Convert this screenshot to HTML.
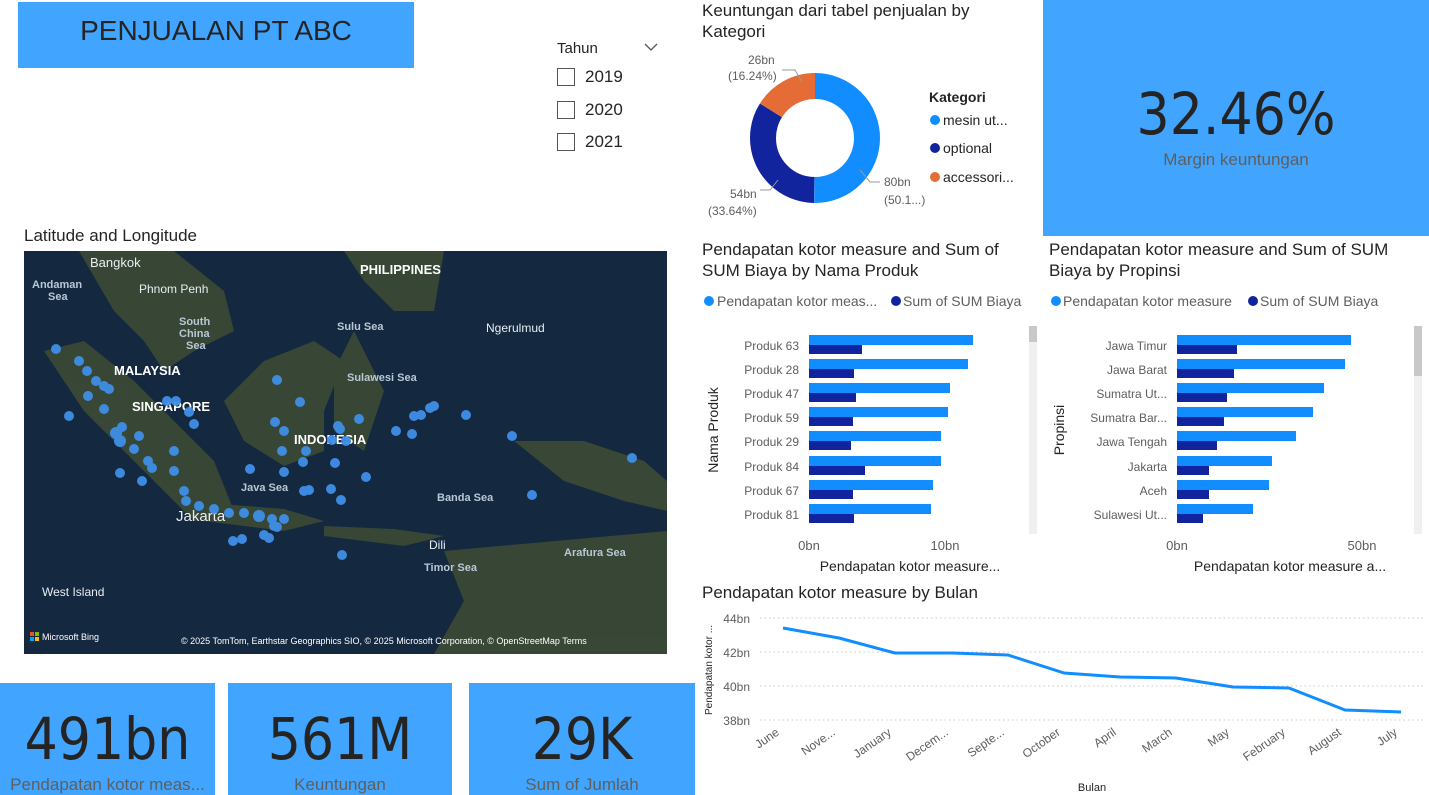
<!DOCTYPE html>
<html><head><meta charset="utf-8"><style>
body{margin:0;width:1429px;height:795px;background:#fff;position:relative;overflow:hidden;font-family:"Liberation Sans","DejaVu Sans",sans-serif;color:#252423}
.a{position:absolute;white-space:nowrap}
.card{position:absolute;background:#41a5ff;overflow:hidden}
.big{position:absolute;width:100%;text-align:center;color:#252423;font-family:"DejaVu Sans Condensed","DejaVu Sans",sans-serif}
.sub{position:absolute;width:100%;text-align:center;color:#605e5c;font-size:17px}
.t{font-size:17px;color:#252423}
</style></head><body>
<div class="card" style="left:18px;top:2px;width:396px;height:66px"><div class="big" style="top:13px;font-size:28px;font-family:'Liberation Sans',sans-serif">PENJUALAN PT ABC</div></div>

<div class="a" style="left:557px;top:40px;font-size:15px">Tahun</div>
<svg class="a" style="left:644px;top:42px" width="14" height="10"><path d="M1 2 L7 8 L13 2" stroke="#555" fill="none" stroke-width="1.3"/></svg>
<div class="a" style="left:557px;top:68px;width:16px;height:16px;border:1px solid #555"></div><div class="a" style="left:585px;top:67px;font-size:17px">2019</div>
<div class="a" style="left:557px;top:101px;width:16px;height:16px;border:1px solid #555"></div><div class="a" style="left:585px;top:100px;font-size:17px">2020</div>
<div class="a" style="left:557px;top:133px;width:16px;height:16px;border:1px solid #555"></div><div class="a" style="left:585px;top:132px;font-size:17px">2021</div>

<div class="a t" style="left:702px;top:0px;line-height:21px">Keuntungan dari tabel penjualan by<br>Kategori</div>
<svg class="a" style="left:700px;top:40px" width="340" height="185">
<circle cx="115" cy="98" r="52" fill="none" stroke="#118dff" stroke-width="26" stroke-dasharray="163.9 1000" transform="rotate(-90 115 98)"/>
<circle cx="115" cy="98" r="52" fill="none" stroke="#12239e" stroke-width="26" stroke-dasharray="0 164 109.9 1000" transform="rotate(-90 115 98)"/>
<circle cx="115" cy="98" r="52" fill="none" stroke="#e66c37" stroke-width="26" stroke-dasharray="0 273.9 53 1000" transform="rotate(-90 115 98)"/>
<g font-size="12" fill="#605e5c"><text x="48" y="24">26bn</text><text x="28" y="40">(16.24%)</text>
<text x="30" y="158">54bn</text><text x="8" y="175">(33.64%)</text>
<text x="184" y="146">80bn</text><text x="184" y="164">(50.1...)</text></g>
<path d="M82 30 L95 30 L102 42" stroke="#999" fill="none"/>
<path d="M60 150 L70 150 L78 140" stroke="#999" fill="none"/>
<path d="M160 130 L170 142 L180 142" stroke="#999" fill="none"/>
<text x="229" y="62" font-size="14" font-weight="bold" fill="#252423">Kategori</text>
<circle cx="235" cy="80" r="5" fill="#118dff"/><text x="243" y="85" font-size="14" fill="#252423">mesin ut...</text>
<circle cx="235" cy="108" r="5" fill="#12239e"/><text x="243" y="113" font-size="14" fill="#252423">optional</text>
<circle cx="235" cy="137" r="5" fill="#e66c37"/><text x="243" y="142" font-size="14" fill="#252423">accessori...</text>
</svg>

<div class="card" style="left:1043px;top:0;width:386px;height:236px"><div class="big" style="top:80px;font-size:58px">32.46%</div><div class="sub" style="top:150px">Margin keuntungan</div></div>

<div class="a t" style="left:24px;top:226px">Latitude and Longitude</div>
<svg class="a" style="left:24px;top:251px" width="643" height="403">
<rect width="643" height="403" fill="#14283f"/>
<g fill="#3d4a35" opacity="0.9">
<path d="M55 0 L150 0 L200 40 L210 80 L170 100 L140 120 L120 90 L90 60 Z"/>
<path d="M20 100 L60 90 L110 130 L150 170 L190 210 L210 260 L170 270 L120 220 L60 160 Z"/>
<path d="M160 250 L260 258 L300 270 L260 280 L180 270 Z"/>
<path d="M200 150 L240 110 L290 90 L320 110 L300 160 L300 200 L260 215 L220 190 Z"/>
<path d="M310 120 L330 80 L360 140 L340 200 L310 180 Z"/>
<path d="M320 0 L420 0 L410 60 L370 60 L340 30 Z"/>
<path d="M490 190 L560 190 L620 210 L643 230 L643 260 L600 250 L540 230 Z"/>
<path d="M420 300 L643 280 L643 403 L410 403 L440 350 Z"/>
<path d="M300 275 L370 278 L420 285 L380 295 L300 285 Z"/>
</g>
<g fill="#e8eef4" font-size="13"><text x="66" y="16">Bangkok</text><text x="115" y="42" font-size="12">Phnom Penh</text><text x="462" y="81" font-size="12">Ngerulmud</text>
<text x="18" y="345" font-size="12">West Island</text><text x="152" y="270" font-size="15">Jakarta</text><text x="405" y="298" font-size="12">Dili</text></g>
<g fill="#b8c8d6" font-size="11" font-weight="bold"><text x="8" y="37">Andaman</text><text x="24" y="49">Sea</text><text x="155" y="74">South</text><text x="155" y="86">China</text><text x="162" y="98">Sea</text>
<text x="313" y="79">Sulu Sea</text><text x="323" y="130">Sulawesi Sea</text><text x="217" y="240">Java Sea</text><text x="413" y="250">Banda Sea</text><text x="400" y="320">Timor Sea</text><text x="540" y="305">Arafura Sea</text></g>
<g fill="#fff" font-size="13" font-weight="bold"><text x="90" y="124">MALAYSIA</text><text x="108" y="160">SINGAPORE</text><text x="270" y="193">INDONESIA</text><text x="336" y="23">PHILIPPINES</text></g>
<g fill="#3f8fe8" opacity="0.95">
<circle cx="32" cy="98" r="5"/><circle cx="55" cy="110" r="5"/><circle cx="63" cy="120" r="5"/><circle cx="72" cy="130" r="5"/><circle cx="80" cy="135" r="5"/><circle cx="85" cy="138" r="5"/><circle cx="64" cy="145" r="5"/><circle cx="80" cy="158" r="5"/><circle cx="45" cy="165" r="5"/><circle cx="98" cy="176" r="5"/><circle cx="92" cy="182" r="6"/><circle cx="96" cy="190" r="6"/><circle cx="110" cy="198" r="5"/><circle cx="124" cy="210" r="5"/><circle cx="150" cy="200" r="5"/><circle cx="96" cy="222" r="5"/><circle cx="118" cy="230" r="5"/><circle cx="128" cy="217" r="5"/><circle cx="150" cy="220" r="5"/><circle cx="160" cy="240" r="5"/><circle cx="143" cy="150" r="5"/><circle cx="152" cy="150" r="5"/>
<circle cx="162" cy="250" r="5"/><circle cx="175" cy="255" r="5"/><circle cx="190" cy="258" r="5"/><circle cx="205" cy="262" r="5"/><circle cx="220" cy="262" r="5"/><circle cx="235" cy="265" r="6"/><circle cx="248" cy="268" r="5"/><circle cx="260" cy="268" r="5"/><circle cx="250" cy="275" r="5"/><circle cx="209" cy="290" r="5"/><circle cx="218" cy="288" r="5"/><circle cx="245" cy="287" r="5"/>
<circle cx="165" cy="161" r="5"/><circle cx="170" cy="173" r="5"/><circle cx="115" cy="185" r="5"/><circle cx="276" cy="151" r="5"/><circle cx="282" cy="200" r="5"/><circle cx="226" cy="218" r="5"/><circle cx="253" cy="129" r="5"/><circle cx="251" cy="171" r="5"/><circle cx="260" cy="180" r="5"/><circle cx="308" cy="189" r="5"/><circle cx="314" cy="175" r="5"/><circle cx="258" cy="200" r="5"/>
<circle cx="260" cy="221" r="5"/><circle cx="279" cy="211" r="5"/><circle cx="285" cy="239" r="5"/><circle cx="307" cy="238" r="5"/><circle cx="317" cy="249" r="5"/><circle cx="342" cy="226" r="5"/><circle cx="316" cy="178" r="5"/>
<circle cx="335" cy="168" r="5"/><circle cx="322" cy="190" r="5"/><circle cx="311" cy="212" r="5"/><circle cx="280" cy="240" r="5"/><circle cx="390" cy="165" r="5"/><circle cx="397" cy="164" r="5"/><circle cx="406" cy="157" r="5"/><circle cx="410" cy="155" r="5"/><circle cx="442" cy="164" r="5"/><circle cx="488" cy="185" r="5"/><circle cx="388" cy="183" r="5"/><circle cx="372" cy="180" r="5"/>
<circle cx="508" cy="244" r="5"/><circle cx="318" cy="304" r="5"/><circle cx="608" cy="207" r="5"/><circle cx="253" cy="276" r="5"/><circle cx="240" cy="284" r="5"/>
</g>
<g font-size="9" fill="#fff"><rect x="6" y="381" width="4" height="4" fill="#f25022"/><rect x="11" y="381" width="4" height="4" fill="#7fba00"/><rect x="6" y="386" width="4" height="4" fill="#00a4ef"/><rect x="11" y="386" width="4" height="4" fill="#ffb900"/><text x="18" y="389">Microsoft Bing</text>
<text x="157" y="393">© 2025 TomTom, Earthstar Geographics SIO, © 2025 Microsoft Corporation, © OpenStreetMap  Terms</text></g>
</svg>

<div class="a t" style="left:702px;top:239px;line-height:21px">Pendapatan kotor measure and Sum of<br>SUM Biaya by Nama Produk</div>
<div class="a t" style="left:1049px;top:239px;line-height:21px">Pendapatan kotor measure and Sum of SUM<br>Biaya by Propinsi</div>
<svg class="a" style="left:700px;top:290px" width="729" height="290">
<g font-size="14" fill="#605e5c">
<circle cx="9" cy="11" r="5" fill="#118dff"/><text x="17" y="16">Pendapatan kotor meas...</text><circle cx="196" cy="11" r="5" fill="#12239e"/><text x="203" y="16">Sum of SUM Biaya</text>
<circle cx="356" cy="11" r="5" fill="#118dff"/><text x="363" y="16">Pendapatan kotor measure</text><circle cx="553" cy="11" r="5" fill="#12239e"/><text x="560" y="16">Sum of SUM Biaya</text>
</g>
<g font-size="12" fill="#605e5c" text-anchor="end">
<text x="99" y="60">Produk 63</text><text x="99" y="84">Produk 28</text><text x="99" y="108">Produk 47</text><text x="99" y="132">Produk 59</text><text x="99" y="156">Produk 29</text><text x="99" y="181">Produk 84</text><text x="99" y="205">Produk 67</text><text x="99" y="229">Produk 81</text>
<text x="467" y="60">Jawa Timur</text><text x="467" y="84">Jawa Barat</text><text x="467" y="108">Sumatra Ut...</text><text x="467" y="132">Sumatra Bar...</text><text x="467" y="156">Jawa Tengah</text><text x="467" y="181">Jakarta</text><text x="467" y="205">Aceh</text><text x="467" y="229">Sulawesi Ut...</text>
</g>
<g fill="#118dff">
<rect x="109" y="45" width="164" height="10"/><rect x="109" y="69" width="159" height="10"/><rect x="109" y="93" width="141" height="10"/><rect x="109" y="117" width="139" height="10"/><rect x="109" y="141" width="132" height="10"/><rect x="109" y="166" width="132" height="10"/><rect x="109" y="190" width="124" height="10"/><rect x="109" y="214" width="122" height="10"/>
<rect x="477" y="45" width="174" height="10"/><rect x="477" y="69" width="168" height="10"/><rect x="477" y="93" width="147" height="10"/><rect x="477" y="117" width="136" height="10"/><rect x="477" y="141" width="119" height="10"/><rect x="477" y="166" width="95" height="10"/><rect x="477" y="190" width="92" height="10"/><rect x="477" y="214" width="76" height="10"/>
</g>
<g fill="#12239e">
<rect x="109" y="55" width="53" height="9"/><rect x="109" y="79" width="45" height="9"/><rect x="109" y="103" width="47" height="9"/><rect x="109" y="127" width="44" height="9"/><rect x="109" y="151" width="42" height="9"/><rect x="109" y="176" width="56" height="9"/><rect x="109" y="200" width="44" height="9"/><rect x="109" y="224" width="45" height="9"/>
<rect x="477" y="55" width="60" height="9"/><rect x="477" y="79" width="57" height="9"/><rect x="477" y="103" width="50" height="9"/><rect x="477" y="127" width="47" height="9"/><rect x="477" y="151" width="40" height="9"/><rect x="477" y="176" width="32" height="9"/><rect x="477" y="200" width="32" height="9"/><rect x="477" y="224" width="26" height="9"/>
</g>
<rect x="329" y="36" width="8" height="208" fill="#f0f0f0"/><rect x="329" y="36" width="8" height="16" fill="#c8c8c8"/>
<rect x="714" y="36" width="8" height="208" fill="#f0f0f0"/><rect x="714" y="36" width="8" height="50" fill="#c8c8c8"/>
<g font-size="13" fill="#605e5c" text-anchor="middle"><text x="109" y="260">0bn</text><text x="245" y="260">10bn</text><text x="477" y="260">0bn</text><text x="662" y="260">50bn</text></g>
<g font-size="14" fill="#252423" text-anchor="middle"><text x="210" y="281">Pendapatan kotor measure...</text><text x="590" y="281">Pendapatan kotor measure a...</text>
<text transform="translate(18 140) rotate(-90)">Nama Produk</text><text transform="translate(364 140) rotate(-90)">Propinsi</text></g>
</svg>

<div class="a t" style="left:702px;top:583px">Pendapatan kotor measure by Bulan</div>
<svg class="a" style="left:700px;top:600px" width="729" height="195">
<g stroke="#c8c8c8" stroke-dasharray="1.5 3"><line x1="60" y1="18" x2="725" y2="18"/><line x1="60" y1="52" x2="725" y2="52"/><line x1="60" y1="86" x2="725" y2="86"/><line x1="60" y1="120" x2="725" y2="120"/></g>
<g font-size="12" fill="#605e5c" text-anchor="end"><text x="50" y="23">44bn</text><text x="50" y="57">42bn</text><text x="50" y="91">40bn</text><text x="50" y="125">38bn</text></g>
<text transform="translate(12 70) rotate(-90)" font-size="10" fill="#252423" text-anchor="middle">Pendapatan kotor ...</text>
<polyline points="83,28 139,38 195,53 252,53 308,55 364,73 420,77 476,78 533,87 589,88 645,110 701,112" fill="none" stroke="#118dff" stroke-width="3" stroke-linejoin="round"/>
<g font-size="12" fill="#605e5c" text-anchor="end">
<text transform="translate(80 134) rotate(-35)">June</text><text transform="translate(136 134) rotate(-35)">Nove...</text><text transform="translate(192 134) rotate(-35)">January</text><text transform="translate(249 134) rotate(-35)">Decem...</text><text transform="translate(305 134) rotate(-35)">Septe...</text><text transform="translate(361 134) rotate(-35)">October</text><text transform="translate(417 134) rotate(-35)">April</text><text transform="translate(473 134) rotate(-35)">March</text><text transform="translate(530 134) rotate(-35)">May</text><text transform="translate(586 134) rotate(-35)">February</text><text transform="translate(642 134) rotate(-35)">August</text><text transform="translate(698 134) rotate(-35)">July</text>
</g>
<text x="392" y="191" font-size="11" fill="#252423" text-anchor="middle">Bulan</text>
</svg>

<div class="card" style="left:0;top:683px;width:215px;height:112px"><div class="big" style="top:22px;font-size:58px">491bn</div><div class="sub" style="top:92px">Pendapatan kotor meas...</div></div>
<div class="card" style="left:228px;top:683px;width:224px;height:112px"><div class="big" style="top:22px;font-size:58px">561M</div><div class="sub" style="top:92px">Keuntungan</div></div>
<div class="card" style="left:469px;top:683px;width:226px;height:112px"><div class="big" style="top:22px;font-size:58px">29K</div><div class="sub" style="top:92px">Sum of Jumlah</div></div>
</body></html>
